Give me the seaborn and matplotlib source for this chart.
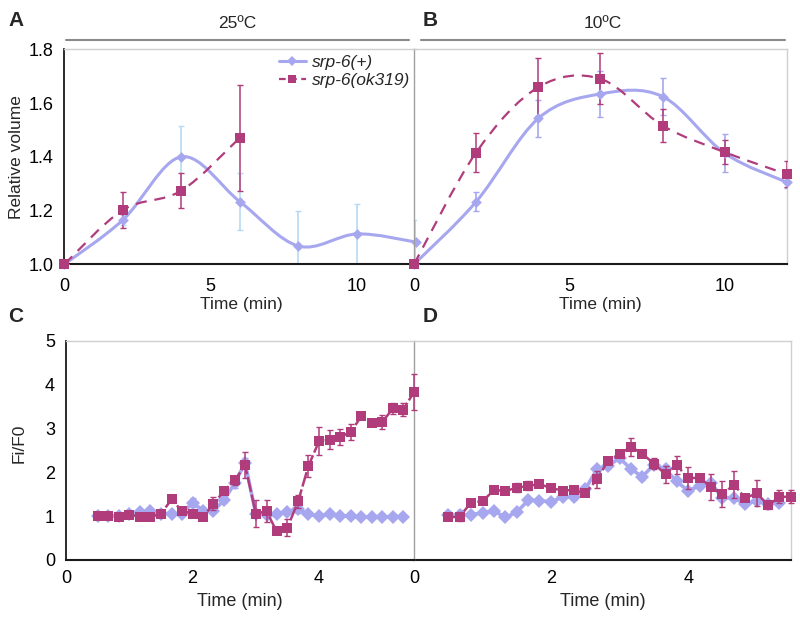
import matplotlib
matplotlib.use("Agg")
import matplotlib.pyplot as plt
from matplotlib.path import Path
from matplotlib.patches import PathPatch
from matplotlib.lines import Line2D
import seaborn as sns
import numpy as np

# ---------------- data ----------------
# Panel A (25 C): relative volume
tA = [0, 2, 4, 6, 8, 10, 12]
wtA = [1.0, 1.165, 1.40, 1.233, 1.068, 1.113, 1.083]
wtA_err = [0.0, 0.02, 0.115, 0.105, 0.13, 0.113, 0.08]
tA_mut = [0, 2, 4, 6]
mutA = [1.0, 1.202, 1.274, 1.471]
mutA_err = [0.0, 0.066, 0.064, 0.197]

# Panel B (10 C): relative volume
tB = [0, 2, 4, 6, 8, 10, 12]
wtB = [1.0, 1.233, 1.543, 1.634, 1.624, 1.413, 1.305]
wtB_err = [0.0, 0.035, 0.07, 0.085, 0.07, 0.07, 0.02]
mutB = [1.0, 1.416, 1.659, 1.69, 1.516, 1.417, 1.335]
mutB_err = [0.0, 0.071, 0.108, 0.095, 0.06, 0.045, 0.048]

# Panels C, D: Fi/F0 over time
tCD = [0.5, 0.67, 0.83, 1.0, 1.17, 1.33, 1.5, 1.67, 1.83, 2.0, 2.17, 2.33, 2.5,
       2.67, 2.83, 3.0, 3.17, 3.33, 3.5, 3.67, 3.83, 4.0, 4.17, 4.33, 4.5, 4.67,
       4.83, 5.0, 5.17, 5.33, 5.5]
mutC = [1.0, 1.0, 0.99, 1.03, 0.99, 0.97, 1.06, 1.38, 1.12, 1.06, 0.99, 1.28, 1.58,
        1.82, 2.16, 1.06, 1.11, 0.65, 0.74, 1.34, 2.14, 2.71, 2.74, 2.80, 2.92, 3.28,
        3.13, 3.15, 3.46, 3.43, 3.83]
mutC_err = [0.03, 0.03, 0.03, 0.04, 0.03, 0.03, 0.04, 0.05, 0.05, 0.04, 0.04, 0.15, 0.05,
            0.1, 0.3, 0.3, 0.25, 0.05, 0.2, 0.15, 0.25, 0.32, 0.22, 0.18, 0.18, 0.07,
            0.05, 0.16, 0.12, 0.15, 0.42]
wtC = [1.0, 1.0, 1.0, 1.05, 1.10, 1.12, 1.06, 1.06, 1.05, 1.31, 1.12, 1.12, 1.37,
       1.76, 2.22, 1.05, 1.03, 1.04, 1.10, 1.16, 1.04, 1.0, 1.05, 1.01, 1.0, 0.97,
       0.98, 0.98, 0.99, 0.99]
wtC_err = [0.03, 0.03, 0.03, 0.03, 0.04, 0.04, 0.03, 0.03, 0.03, 0.1, 0.05, 0.05, 0.06,
           0.12, 0.1, 0.05, 0.04, 0.04, 0.05, 0.08, 0.04, 0.03, 0.03, 0.03, 0.03, 0.03,
           0.03, 0.03, 0.03, 0.03]
mutD = [0.97, 0.99, 1.31, 1.34, 1.60, 1.57, 1.65, 1.69, 1.73, 1.64, 1.58, 1.60, 1.52,
        1.84, 2.26, 2.42, 2.58, 2.42, 2.20, 1.95, 2.17, 1.86, 1.88, 1.66, 1.50, 1.72,
        1.41, 1.52, 1.25, 1.44, 1.44]
mutD_err = [0.03, 0.1, 0.04, 0.04, 0.04, 0.04, 0.1, 0.1, 0.05, 0.04, 0.04, 0.05, 0.04,
            0.2, 0.08, 0.08, 0.2, 0.05, 0.12, 0.2, 0.2, 0.25, 0.05, 0.3, 0.3, 0.3,
            0.05, 0.3, 0.08, 0.15, 0.15]
wtD = [1.03, 1.03, 1.03, 1.08, 1.12, 0.97, 1.09, 1.37, 1.35, 1.33, 1.43, 1.44, 1.62,
       2.07, 2.15, 2.32, 2.07, 1.90, 2.17, 2.07, 1.79, 1.58, 1.69, 1.76, 1.42, 1.42,
       1.27, 1.35, 1.28, 1.31]
wtD_err = [0.08, 0.1, 0.03, 0.03, 0.03, 0.03, 0.03, 0.03, 0.03, 0.05, 0.05, 0.07, 0.05,
           0.07, 0.05, 0.05, 0.05, 0.07, 0.05, 0.1, 0.05, 0.05, 0.05, 0.07, 0.05, 0.05,
           0.05, 0.05, 0.05, 0.05]

series_labels = ["srp-6(+)", "srp-6(ok319)"]
temps = ["25ºC", "10ºC"]

# ---------------- style ----------------
sns.set_style("white")
plt.rcParams["font.family"] = ["Liberation Sans", "DejaVu Sans"]

BLUE = "#A7A7F0"
BLUE_ERR_A = "#B6DAF4"
PINK = "#B03C7C"
DARK = "#1A1A1A"
LIGHT = "#CFCFCF"
MID = "#A0A0A0"

W, H = 800, 617
fig = plt.figure(figsize=(8, 6.17), dpi=100)


def rect(l, t, r, b):
    return [l / W, 1 - b / H, (r - l) / W, (b - t) / H]


axA = fig.add_axes(rect(64.3, 49.3, 415.5, 264.3))
axB = fig.add_axes(rect(414, 49.3, 787, 264.3))
axD = fig.add_axes(rect(414, 340.7, 791, 560))
axC = fig.add_axes(rect(66, 340.7, 414, 560))
for ax in (axA, axB, axC, axD):
    ax.set_facecolor("none")


def smooth_path(x, y):
    n = len(x)
    verts = [(x[0], y[0])]
    codes = [Path.MOVETO]
    for i in range(n - 1):
        x0, y0 = (x[i - 1], y[i - 1]) if i > 0 else (x[i], y[i])
        x3, y3 = (x[i + 2], y[i + 2]) if i + 2 < n else (x[i + 1], y[i + 1])
        c1 = (x[i] + (x[i + 1] - x0) / 6, y[i] + (y[i + 1] - y0) / 6)
        c2 = (x[i + 1] - (x3 - x[i]) / 6, y[i + 1] - (y3 - y[i]) / 6)
        verts += [c1, c2, (x[i + 1], y[i + 1])]
        codes += [Path.CURVE4] * 3
    return Path(verts, codes)


def smooth_panel(ax, t_wt, wt, wt_err, t_mut, mut, mut_err, wt_ecolor):
    ax.errorbar(t_wt, wt, yerr=wt_err, fmt="none", ecolor=wt_ecolor, elinewidth=1.2,
                capsize=2, capthick=1, zorder=2)
    ax.errorbar(t_mut, mut, yerr=mut_err, fmt="none", ecolor=PINK, elinewidth=1.1,
                capsize=2, capthick=1, zorder=3)
    ax.add_patch(PathPatch(smooth_path(t_wt, wt), fill=False, edgecolor=BLUE, lw=2.2,
                           zorder=4, capstyle="round"))
    ax.add_patch(PathPatch(smooth_path(t_mut, mut), fill=False, edgecolor=PINK, lw=1.6,
                           linestyle=(0, (5, 3.5)), zorder=5))
    sns.scatterplot(x=t_wt, y=wt, ax=ax, marker="D", s=30, color=BLUE, edgecolor=BLUE,
                    linewidth=0, zorder=6, clip_on=False)
    sns.scatterplot(x=t_mut, y=mut, ax=ax, marker="s", s=42, color=PINK, edgecolor=PINK,
                    linewidth=0, zorder=7, clip_on=False)


smooth_panel(axA, tA, wtA, wtA_err, tA_mut, mutA, mutA_err, BLUE_ERR_A)
smooth_panel(axB, tB, wtB, wtB_err, tB, mutB, mutB_err, BLUE)


def trace_panel(ax, t_wt, wt, wt_err, t_mut, mut, mut_err):
    ax.errorbar(t_wt, wt, yerr=wt_err, fmt="none", ecolor=BLUE, elinewidth=1.1,
                capsize=2, capthick=1, zorder=2, clip_on=False)
    sns.lineplot(x=t_wt, y=wt, ax=ax, color=BLUE, lw=2.6, marker="D", markersize=7,
                 markeredgewidth=0, sort=False, estimator=None, errorbar=None,
                 zorder=3, clip_on=False)
    ax.errorbar(t_mut, mut, yerr=mut_err, fmt="none", ecolor=PINK, elinewidth=1.1,
                capsize=2, capthick=1, zorder=4, clip_on=False)
    sns.lineplot(x=t_mut, y=mut, ax=ax, color=PINK, lw=1.8, marker="s", markersize=6.5,
                 markeredgewidth=0, linestyle=(0, (6, 1.2)), sort=False, estimator=None,
                 errorbar=None, zorder=5, clip_on=False)


trace_panel(axC, tCD[:len(wtC)], wtC, wtC_err, tCD, mutC, mutC_err)
trace_panel(axD, tCD[:len(wtD)], wtD, wtD_err, tCD, mutD, mutD_err)

# ---------------- axes ----------------
for ax in (axA, axB):
    ax.set_xlim(0, 12)
    ax.set_ylim(1.0, 1.8)
    ax.set_xticks([0, 5, 10])
for ax in (axC, axD):
    ax.set_xlim(0, 5.5)
    ax.set_ylim(0, 5)
    ax.set_xticks([0, 2, 4])

axA.set_yticks([1.0, 1.2, 1.4, 1.6, 1.8])
axA.set_yticklabels(["1.0", "1.2", "1.4", "1.6", "1.8"])
axC.set_yticks([0, 1, 2, 3, 4, 5])

for ax in (axA, axB, axC, axD):
    ax.tick_params(axis="both", direction="out", length=4, width=1, color=DARK,
                   labelsize=13, labelcolor="black")
    ax.tick_params(axis="x", pad=6 if ax in (axA, axB) else 3.5)
    ax.tick_params(axis="y", pad=4)
    for s in ax.spines.values():
        s.set_linewidth(1)
    ax.spines["bottom"].set_color(DARK)
    ax.spines["bottom"].set_linewidth(1.5)
    ax.spines["top"].set_color(LIGHT)
    ax.set_xlabel("Time (min)", fontsize=13 if ax in (axC, axD) else 12.5)
    ax.xaxis.label.set_va("center")

axB.tick_params(axis="y", left=False, labelleft=False)
axD.tick_params(axis="y", left=False, labelleft=False)

axA.spines["left"].set_color(DARK)
axA.spines["left"].set_linewidth(1.3)
axA.spines["right"].set_visible(False)
axB.spines["left"].set_color(MID)
axB.spines["right"].set_color(LIGHT)
axC.spines["left"].set_color(DARK)
axC.spines["left"].set_linewidth(1.3)
axC.spines["right"].set_color(MID)
axD.spines["left"].set_visible(False)
axD.spines["right"].set_color(LIGHT)

axA.xaxis.set_label_coords(0.503, -0.185)
axB.xaxis.set_label_coords(0.499, -0.185)
axC.xaxis.set_label_coords(0.5, -0.187)
axD.xaxis.set_label_coords(0.5, -0.19)

axA.set_ylabel("Relative volume", fontsize=12.5)
axA.yaxis.set_label_coords(-0.135, 0.5)
axA.yaxis.label.set_va("center")
axC.set_ylabel("Fi/F0", fontsize=12.5)
axC.yaxis.set_label_coords(-0.135, 0.53)
axC.yaxis.label.set_va("center")

# legend
handles = [
    Line2D([], [], color=BLUE, lw=2.2, marker="D", markersize=5, markeredgewidth=0),
    Line2D([], [], color=PINK, lw=1.6, linestyle=(0, (3, 2)), marker="s", markersize=6,
           markeredgewidth=0),
]
leg = axA.legend(handles, series_labels, loc="upper left", bbox_to_anchor=(0.61, 0.975),
                 frameon=False, borderaxespad=0, borderpad=0, handlelength=1.6,
                 handletextpad=0.35, labelspacing=0.15,
                 prop={"size": 12.5, "style": "italic"})

# temperature brackets and panel letters
fig.add_artist(Line2D([66 / W, 409 / W], [1 - 40 / H, 1 - 40 / H], color="#8A8A8A", lw=1.5))
fig.add_artist(Line2D([420.5 / W, 785 / W], [1 - 40 / H, 1 - 40 / H], color="#8A8A8A", lw=1.5))
fig.text(237 / W, 1 - 24 / H, temps[0], ha="center", va="center", fontsize=12.5)
fig.text(603 / W, 1 - 24 / H, temps[1], ha="center", va="center", fontsize=12.5)

for letter, (x, y) in zip("ABCD", [(16, 20), (430, 20), (16, 317), (430, 317)]):
    fig.text(x / W, 1 - y / H, letter, ha="center", va="center", fontsize=15,
             fontweight="bold")

fig.savefig("out.png", dpi=100)
